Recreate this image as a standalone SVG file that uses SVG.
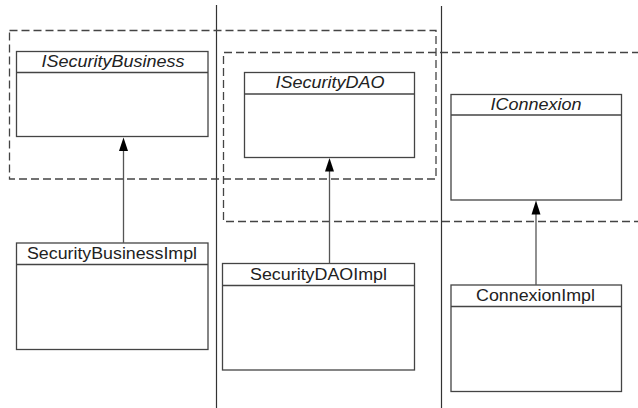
<svg xmlns="http://www.w3.org/2000/svg" width="638" height="408" viewBox="0 0 638 408">
<style>
.bg{fill:#ffffff}
.sep{stroke:#333333;stroke-width:1.2;fill:none}
.pkg{stroke:#444444;stroke-width:1.3;fill:none;stroke-dasharray:8,4}
.box{fill:#ffffff;stroke:#444444;stroke-width:1.3}
.div{stroke:#444444;stroke-width:1.3}
.conn{stroke:#555555;stroke-width:1.3;fill:none}
.arrow{fill:#000000;stroke:none}
.lbl{font-family:"Liberation Sans",Arial,sans-serif;font-size:16px;fill:#222222;text-anchor:middle}
.it{font-style:italic}
</style>
<rect class="bg" x="0" y="0" width="638" height="408"/>
<g id="separators">
<line class="sep" x1="216.5" y1="5" x2="216.5" y2="408"/>
<line class="sep" x1="441.5" y1="6" x2="441.5" y2="408"/>
</g>
<g id="packages">
<rect class="pkg" x="9.5" y="30.5" width="426.5" height="148.5"/>
<polyline class="pkg" points="640,52.5 223.5,52.5 223.5,221.5 640,221.5"/>
</g>
<g id="ISecurityBusiness">
<rect class="box" x="16.5" y="51.5" width="191.5" height="85"/>
<line class="div" x1="16.5" y1="72.5" x2="208" y2="72.5"/>
<text class="lbl it" x="113" y="67" textLength="143" lengthAdjust="spacingAndGlyphs">ISecurityBusiness</text>
</g>
<g id="SecurityBusinessImpl">
<rect class="box" x="16.5" y="243" width="191.5" height="106.5"/>
<line class="div" x1="16.5" y1="264.5" x2="208" y2="264.5"/>
<text class="lbl" x="112" y="259" textLength="170" lengthAdjust="spacingAndGlyphs">SecurityBusinessImpl</text>
</g>
<g id="ISecurityDAO">
<rect class="box" x="244.5" y="72.5" width="170" height="85"/>
<line class="div" x1="244.5" y1="94" x2="414.5" y2="94"/>
<text class="lbl it" x="330" y="88" textLength="109" lengthAdjust="spacingAndGlyphs">ISecurityDAO</text>
</g>
<g id="SecurityDAOImpl">
<rect class="box" x="222.5" y="263.5" width="192" height="106.5"/>
<line class="div" x1="222.5" y1="285.5" x2="414.5" y2="285.5"/>
<text class="lbl" x="318.5" y="280" textLength="137" lengthAdjust="spacingAndGlyphs">SecurityDAOImpl</text>
</g>
<g id="IConnexion">
<rect class="box" x="451" y="94.5" width="170.5" height="105.5"/>
<line class="div" x1="451" y1="115" x2="621.5" y2="115"/>
<text class="lbl it" x="536" y="110" textLength="91" lengthAdjust="spacingAndGlyphs">IConnexion</text>
</g>
<g id="ConnexionImpl">
<rect class="box" x="451" y="285" width="170.5" height="106.5"/>
<line class="div" x1="451" y1="306.5" x2="621.5" y2="306.5"/>
<text class="lbl" x="535.5" y="301" textLength="119" lengthAdjust="spacingAndGlyphs">ConnexionImpl</text>
</g>
<g id="connectors">
<line class="conn" x1="123.5" y1="150" x2="123.5" y2="243"/>
<polygon class="arrow" points="123.5,137.5 119,151 128,151"/>
<line class="conn" x1="329.5" y1="171" x2="329.5" y2="263.5"/>
<polygon class="arrow" points="329.5,158 325,171.5 334,171.5"/>
<line class="conn" x1="536" y1="214" x2="536" y2="285"/>
<polygon class="arrow" points="536,200.5 531.5,214.5 540.5,214.5"/>
</g>
</svg>
